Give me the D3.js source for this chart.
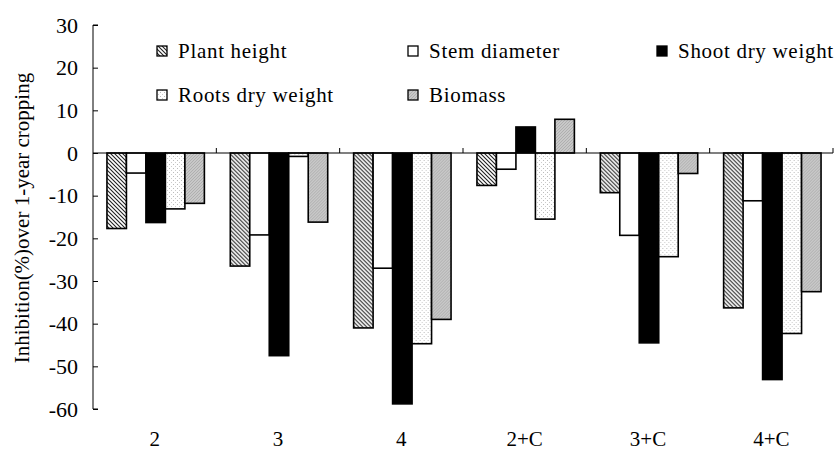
<!DOCTYPE html>
<html>
<head>
<meta charset="utf-8">
<script src="https://cdn.jsdelivr.net/npm/d3@7"></script>
<style>
  body { margin: 0; background: #fff; }
  svg text { font-family: "Liberation Serif", "DejaVu Serif", serif; fill: #000; }
</style>
</head>
<body>
<svg id="chart" width="834" height="450"></svg>
<script>
// categories (years of continuous cropping, +C = with treatment)
const categories = ['2', '3', '4', '2+C', '3+C', '4+C'];
const series = ['Plant height', 'Stem diameter', 'Shoot dry weight', 'Roots dry weight', 'Biomass'];

// inhibition values per series, one per category
const plant_height = [-17.7, -26.5, -41.0, -7.6, -9.3, -36.3];
const stem_diameter = [-4.7, -19.2, -27.0, -3.8, -19.3, -11.2];
const shoot_dry_weight = [-16.3, -47.5, -58.8, 6.1, -44.5, -53.1];
const roots_dry_weight = [-13.1, -0.8, -44.7, -15.5, -24.3, -42.3];
const biomass = [-11.8, -16.2, -39.0, 7.9, -4.8, -32.5];

const y_ticks = [30, 20, 10, 0, -10, -20, -30, -40, -50, -60];

const values = [plant_height, stem_diameter, shoot_dry_weight, roots_dry_weight, biomass];
const fills = ['url(#p-hatch)', '#fff', '#000', 'url(#p-dots)', 'url(#p-gray)'];

const svg = d3.select('#chart');

// fill patterns, roughly like the old excel ones
const defs = svg.append('defs');
const hatch = defs.append('pattern').attr('id', 'p-hatch')
    .attr('patternUnits', 'userSpaceOnUse').attr('width', 4).attr('height', 4);
hatch.append('rect').attr('width', 4).attr('height', 4).attr('fill', '#fff');
hatch.append('path').attr('d', 'M0,0 L4,4 M-1,3 L1,5 M3,-1 L5,1')
    .attr('stroke', '#222').attr('stroke-width', 1.1);

const dots = defs.append('pattern').attr('id', 'p-dots')
    .attr('patternUnits', 'userSpaceOnUse').attr('width', 4).attr('height', 4);
dots.append('rect').attr('width', 4).attr('height', 4).attr('fill', '#fff');
dots.append('rect').attr('x', 0).attr('y', 0).attr('width', 1).attr('height', 1).attr('fill', '#bbb');
dots.append('rect').attr('x', 2).attr('y', 2).attr('width', 1).attr('height', 1).attr('fill', '#ccc');

const gray = defs.append('pattern').attr('id', 'p-gray')
    .attr('patternUnits', 'userSpaceOnUse').attr('width', 3).attr('height', 3);
gray.append('rect').attr('width', 3).attr('height', 3).attr('fill', '#c8c8c8');
gray.append('path').attr('d', 'M0,3 L3,0').attr('stroke', '#a8a8a8').attr('stroke-width', 0.8);

const plotLeft = 93, plotRight = 833, plotTop = 25, plotBottom = 409;

const x0 = d3.scaleBand().domain(categories).range([plotLeft, plotRight]).padding(0);
const groupW = x0.bandwidth() * 0.79;
const x1 = d3.scaleBand().domain(series)
    .range([(x0.bandwidth() - groupW) / 2 + 1, (x0.bandwidth() + groupW) / 2 + 1]).padding(0);
const y = d3.scaleLinear().domain([-60, 30]).range([plotBottom, plotTop]);

// bars
categories.forEach((c, ci) => {
    const g = svg.append('g').attr('transform', `translate(${x0(c)},0)`);
    series.forEach((s, si) => {
        const v = values[si][ci];
        g.append('rect')
            .attr('x', x1(s))
            .attr('y', y(Math.max(0, v)))
            .attr('width', x1.bandwidth())
            .attr('height', Math.abs(y(v) - y(0)))
            .attr('fill', fills[si])
            .attr('stroke', '#000')
            .attr('stroke-width', 1.6);
    });
});

// y axis, ticks pointing inward
const yAxis = svg.append('g')
    .attr('transform', `translate(${plotLeft},0)`)
    .call(d3.axisRight(y).tickValues(y_ticks).tickSize(5).tickFormat(''));
yAxis.select('.domain').attr('d', `M5,${plotTop}H0V${plotBottom}H5`).attr('stroke', '#000');
yAxis.selectAll('line').attr('stroke', '#000');

svg.selectAll('.ylab')
    .data(y_ticks)
    .enter().append('text')
    .attr('class', 'ylab')
    .attr('x', 78)
    .attr('y', (d) => y(d) + 7.5)
    .attr('text-anchor', 'end')
    .attr('font-size', 22)
    .text((d) => d);

// zero line with category ticks on top
const xAxis = svg.append('g')
    .attr('transform', `translate(0,${y(0)})`);
xAxis.append('line')
    .attr('x1', plotLeft).attr('x2', plotRight).attr('y1', 0).attr('y2', 0)
    .attr('stroke', '#000').attr('stroke-width', 1);
xAxis.selectAll('.ctick')
    .data(categories.slice(1).map((c) => x0(c)).concat([plotRight]))
    .enter().append('line')
    .attr('x1', (d) => d).attr('x2', (d) => d)
    .attr('y1', 0).attr('y2', -5)
    .attr('stroke', '#000');

svg.selectAll('.clab')
    .data(categories)
    .enter().append('text')
    .attr('x', (d) => x0(d) + x0.bandwidth() / 2)
    .attr('y', 446)
    .attr('text-anchor', 'middle')
    .attr('font-size', 21)
    .text((d) => d);

// y axis title
svg.append('text')
    .attr('transform', 'translate(29,218) rotate(-90)')
    .attr('text-anchor', 'middle')
    .attr('font-size', 21)
    .text('Inhibition(%)over 1-year cropping');

// legend
const legendPos = [[157, 51], [408, 51], [657, 51], [157, 95], [408, 95]];
series.forEach((s, i) => {
    const [lx, ly] = legendPos[i];
    svg.append('rect')
        .attr('x', lx).attr('y', ly - 5)
        .attr('width', 10).attr('height', 10)
        .attr('fill', fills[i])
        .attr('stroke', '#000').attr('stroke-width', 1.3);
    svg.append('text')
        .attr('x', lx + 21).attr('y', ly + 7)
        .attr('font-size', 21)
        .attr('letter-spacing', 0.7)
        .text(s);
});
</script>
</body>
</html>
